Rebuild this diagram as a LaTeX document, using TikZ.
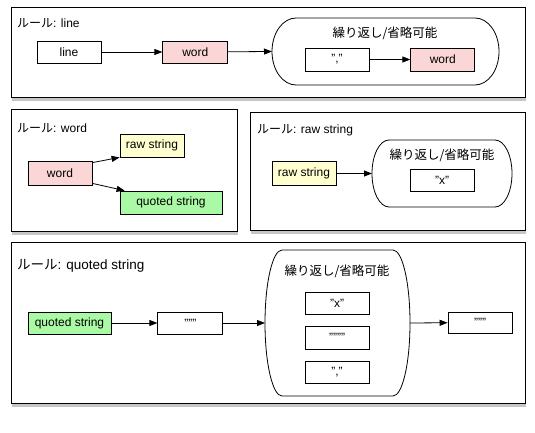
\documentclass[tikz,border=0pt]{standalone}
\usepackage{fontspec}
\setmainfont{Liberation Sans}
\newfontfamily\jpfont{Noto Sans CJK JP}
\usetikzlibrary{positioning,shadows,arrows.meta}

\definecolor{wordpink}{RGB}{250,214,214}
\definecolor{rawyellow}{RGB}{255,255,208}
\definecolor{quotedgreen}{RGB}{170,250,165}

\tikzset{
  rulepanel/.style={draw, line width=1.1pt, fill=white, anchor=north west, inner sep=0pt,
    drop shadow={shadow xshift=0.5pt, shadow yshift=-3pt, opacity=0.45}},
  ruletitle/.style={anchor=west, inner sep=0pt, font=\fontsize{12}{14}\selectfont},
  term/.style={draw, line width=0.8pt, fill=white, minimum width=64pt, minimum height=22pt,
    inner sep=2pt, font=\fontsize{12}{14}\selectfont},
  wordterm/.style={term, fill=wordpink},
  rawterm/.style={term, fill=rawyellow},
  quotedterm/.style={term, fill=quotedgreen},
  repeatgroup/.style={draw, line width=0.8pt},
  repeattitle/.style={inner sep=0pt, font=\jpfont\fontsize{12.5}{14}\selectfont},
  flow/.style={-{Triangle[length=8pt,width=6pt]}, line width=0.8pt},
}

\begin{document}
\begin{tikzpicture}[x=1pt, y=-1pt]
  \useasboundingbox (0,0) rectangle (535,433);

  % panels
  \node[rulepanel, minimum width=514pt, minimum height=90pt] (panel_line) at (11,7) {};
  \node[rulepanel, minimum width=226pt, minimum height=122pt] (panel_word) at (11,109) {};
  \node[rulepanel, minimum width=275pt, minimum height=118pt] (panel_raw) at (250,112) {};
  \node[rulepanel, minimum width=514pt, minimum height=161pt] (panel_quoted) at (11,242) {};

  % rule: line
  \node[ruletitle] (title_line) at (17,23) {{\jpfont ルール}: line};
  \node[term] (line_box) at (69,52) {line};
  \node[wordterm, minimum width=65pt, right=61pt of line_box] (word_1) {word};
  \draw[repeatgroup] (296,18) -- (475,18)
    arc[start angle=90, end angle=-90, x radius=24pt, y radius=33.5pt] -- (296,85)
    arc[start angle=270, end angle=90, x radius=24pt, y radius=33.5pt] -- cycle;
  \coordinate (group_1_in) at (272,51.5);
  \node[repeattitle] (group_1_title) at (385,33) {繰り返し/省略可能};
  \node[term, minimum height=23pt] (comma_1) at (337,59.5) {","};
  \node[wordterm, minimum height=23pt, right=41pt of comma_1] (word_2) {word};
  \draw[flow] (line_box) -- (word_1);
  \draw[flow] (word_1) -- (group_1_in);
  \draw[flow] (comma_1) -- (word_2);

  % rule: word
  \node[ruletitle] (title_word) at (17,128) {{\jpfont ルール}: word};
  \node[wordterm, minimum height=24pt] (word_3) at (60,173) {word};
  \node[rawterm, minimum height=23pt] (raw_1) at (152,145.5) {raw string};
  \node[quotedterm, minimum width=102pt, minimum height=23pt] (quoted_1) at (171,202.5) {quoted string};
  \draw[flow] ([yshift=-2pt]word_3.north east) -- (raw_1.south west);
  \draw[flow] ([yshift=2pt]word_3.south east) -- ([xshift=5pt]quoted_1.north west);

  % rule: raw string
  \node[ruletitle] (title_raw) at (257,130) {{\jpfont ルール}: raw string};
  \node[rawterm, minimum height=24pt] (raw_2) at (304,173.5) {raw string};
  \draw[repeatgroup] (389,140) -- (495,140)
    arc[start angle=90, end angle=-90, x radius=17pt, y radius=33.5pt] -- (389,207)
    arc[start angle=270, end angle=90, x radius=17pt, y radius=33.5pt] -- cycle;
  \coordinate (group_3_in) at (372,173.5);
  \node[repeattitle] (group_3_title) at (442,155) {繰り返し/省略可能};
  \node[term] (x_1) at (442,180) {"x"};
  \draw[flow] (raw_2) -- (group_3_in);

  % rule: quoted string
  \node[ruletitle, font=\fontsize{13.5}{16}\selectfont] (title_quoted) at (17,266) {{\jpfont ルール}: quoted string};
  \node[quotedterm, minimum width=83pt] (quoted_2) at (69.5,323) {quoted string};
  \node[term, minimum width=65pt, right=46pt of quoted_2] (quote_open) {"""};
  \draw[repeatgroup] (282,250) -- (393,250)
    arc[start angle=90, end angle=-90, x radius=17pt, y radius=73pt] -- (282,396)
    arc[start angle=270, end angle=90, x radius=17pt, y radius=73pt] -- cycle;
  \coordinate (group_4_in) at (265,323);
  \coordinate (group_4_out) at (410,323);
  \node[repeattitle] (group_4_title) at (337,271) {繰り返し/省略可能};
  \node[term] (x_2) at (337,303) {"x"};
  \node[term, minimum height=23pt] (dquote) at (337,337.5) {""""};
  \node[term] (comma_2) at (337,372) {","};
  \node[term, minimum height=21pt] (quote_close) at (480,322.5) {"""};
  \draw[flow] (quoted_2) -- (quote_open);
  \draw[flow] (quote_open) -- (group_4_in);
  \draw[flow] (group_4_out) -- (quote_close);
\end{tikzpicture}
\end{document}
